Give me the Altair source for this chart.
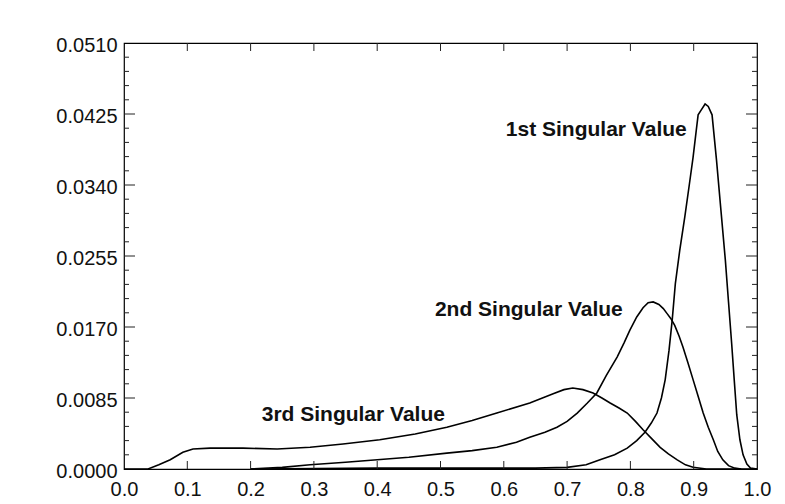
import altair as alt
import pandas as pd

# ---- data ----
x1 = [0.20, 0.40, 0.55, 0.65, 0.70, 0.73, 0.752, 0.775, 0.795, 0.810, 0.823, 0.833, 0.842, 0.849,
      0.855, 0.861, 0.866, 0.871, 0.878, 0.886, 0.893, 0.899, 0.904, 0.907, 0.912, 0.918, 0.923,
      0.929, 0.936, 0.943, 0.950, 0.955, 0.960, 0.964, 0.968, 0.973, 0.978, 0.984, 0.990, 1.0]
y1 = [0.0000, 0.0001, 0.0001, 0.0001, 0.0002, 0.0005, 0.0011, 0.0017, 0.0025, 0.0034, 0.0044,
      0.0055, 0.0067, 0.0085, 0.0107, 0.0142, 0.0178, 0.0222, 0.0262, 0.0302, 0.0340, 0.0373,
      0.0405, 0.0424, 0.0430, 0.0437, 0.0434, 0.0424, 0.0370, 0.0310, 0.0250, 0.0200, 0.0150,
      0.0107, 0.0065, 0.0035, 0.0017, 0.0006, 0.0001, 0.0]

x2 = [0.20, 0.25, 0.294, 0.35, 0.40, 0.45, 0.51, 0.55, 0.589, 0.62, 0.641, 0.665, 0.684, 0.70,
      0.716, 0.732, 0.747, 0.762, 0.779, 0.790, 0.799, 0.810, 0.820, 0.828, 0.836, 0.845, 0.852,
      0.858, 0.864, 0.870, 0.877, 0.883, 0.891, 0.899, 0.907, 0.915, 0.923, 0.931, 0.938, 0.946,
      0.955, 0.965, 0.975]
y2 = [0.0000, 0.0002, 0.0005, 0.0008, 0.0011, 0.0014, 0.0019, 0.0022, 0.0026, 0.0032, 0.0038,
      0.0044, 0.0050, 0.0057, 0.0067, 0.0079, 0.0091, 0.0112, 0.0134, 0.0151, 0.0166, 0.0182,
      0.0193, 0.0199, 0.0200, 0.0197, 0.0192, 0.0186, 0.0180, 0.0172, 0.0159, 0.0146, 0.0127,
      0.0107, 0.0087, 0.0067, 0.0050, 0.0035, 0.0021, 0.0011, 0.0004, 0.0001, 0.0]

x3 = [0.0, 0.038, 0.055, 0.073, 0.093, 0.109, 0.136, 0.188, 0.242, 0.294, 0.346, 0.404, 0.46,
      0.510, 0.55, 0.589, 0.641, 0.678, 0.695, 0.709, 0.725, 0.741, 0.755, 0.768, 0.782, 0.795,
      0.808, 0.820, 0.834, 0.847, 0.860, 0.874, 0.887, 0.899, 0.92, 1.0]
y3 = [0.0, 0.0, 0.0005, 0.0011, 0.0020, 0.0024, 0.0025, 0.0025, 0.0024, 0.0026, 0.0030, 0.0035,
      0.0042, 0.0050, 0.0058, 0.0067, 0.0079, 0.0090, 0.0095, 0.0097, 0.0095, 0.0091, 0.0085,
      0.0079, 0.0073, 0.0067, 0.0057, 0.0047, 0.0036, 0.0026, 0.0018, 0.0011, 0.0005, 0.0002,
      0.0, 0.0]

labels = ["1st Singular Value", "2nd Singular Value", "3rd Singular Value"]
label_x = [0.889, 0.788, 0.507]
label_y = [0.0406, 0.0190, 0.0065]

x_ticks = [0.0, 0.1, 0.2, 0.3, 0.4, 0.5, 0.6, 0.7, 0.8, 0.9, 1.0]
y_ticks = [0.0, 0.0085, 0.0170, 0.0255, 0.0340, 0.0425, 0.0510]
x_major_inner = [0.1, 0.2, 0.3, 0.4, 0.5, 0.6, 0.7, 0.8, 0.9]
y_major_inner = [0.0085, 0.0170, 0.0255, 0.0340, 0.0425]
y_minor = [0.0017, 0.0034, 0.0051, 0.0068, 0.0102, 0.0119, 0.0136, 0.0153, 0.0187, 0.0204,
           0.0221, 0.0238, 0.0272, 0.0289, 0.0306, 0.0323, 0.0357, 0.0374, 0.0391, 0.0408,
           0.0442, 0.0459, 0.0476, 0.0493]

# ---- tables ----
rows = []
for name, xs, ys in [("1st", x1, y1), ("2nd", x2, y2), ("3rd", x3, y3)]:
    for i, (a, b) in enumerate(zip(xs, ys)):
        rows.append({"series": name, "order": i, "x": a, "y": b})
curves = pd.DataFrame(rows)
ann = pd.DataFrame({"label": labels, "x": label_x, "y": label_y})
xt = pd.DataFrame({"x": x_major_inner})
yt = pd.DataFrame({"y": y_major_inner})
ym = pd.DataFrame({"y": y_minor})

W, H = 633, 426
FONT = "Liberation Sans"
xscale = alt.Scale(domain=[0, 1], nice=False, zero=False)
yscale = alt.Scale(domain=[0, 0.051], nice=False, zero=False)
xaxis = alt.Axis(values=x_ticks, format=".1f", tickSize=0, domain=False, grid=False,
                 labelFont=FONT, labelFontSize=20, labelColor="#111",
                 labelPadding=10, labelFlush=False)
yaxis = alt.Axis(values=y_ticks, format=".4f", tickSize=0, domain=False, grid=False,
                 labelFont=FONT, labelFontSize=20, labelColor="#111",
                 labelPadding=7, labelFlush=False, labelOffset=2)
X = alt.X("x:Q", scale=xscale, title=None, axis=xaxis)
Y = alt.Y("y:Q", scale=yscale, title=None, axis=yaxis)

lines = alt.Chart(curves).mark_line(color="black", strokeWidth=1.6).encode(
    x=X, y=Y, detail="series:N", order="order:Q",
)

text = alt.Chart(ann).mark_text(
    align="right", baseline="middle", font=FONT, fontWeight="bold", fontSize=21, color="#111"
).encode(x=X, y=Y, text="label:N")

tick_style = dict(color="#222", strokeWidth=1)
xb = alt.Chart(xt).mark_rule(**tick_style).encode(x=X, y=alt.value(H), y2=alt.value(H - 8))
xtop = alt.Chart(xt).mark_rule(**tick_style).encode(x=X, y=alt.value(0), y2=alt.value(8))
yl = alt.Chart(yt).mark_rule(**tick_style).encode(y=Y, x=alt.value(0), x2=alt.value(11))
yr = alt.Chart(yt).mark_rule(**tick_style).encode(y=Y, x=alt.value(W), x2=alt.value(W - 11))
yml = alt.Chart(ym).mark_rule(**tick_style).encode(y=Y, x=alt.value(0), x2=alt.value(5))
ymr = alt.Chart(ym).mark_rule(**tick_style).encode(y=Y, x=alt.value(W), x2=alt.value(W - 5))

chart = alt.layer(lines, text, xb, xtop, yl, yr, yml, ymr).properties(
    width=W, height=H,
    autosize=alt.AutoSizeParams(type="none"),
    padding={"left": 116, "top": 35, "right": 20, "bottom": 34},
    background="white",
).configure_view(stroke="black", strokeWidth=1.2)

chart.save("out.html", embed_options={"renderer": "svg", "actions": False})
